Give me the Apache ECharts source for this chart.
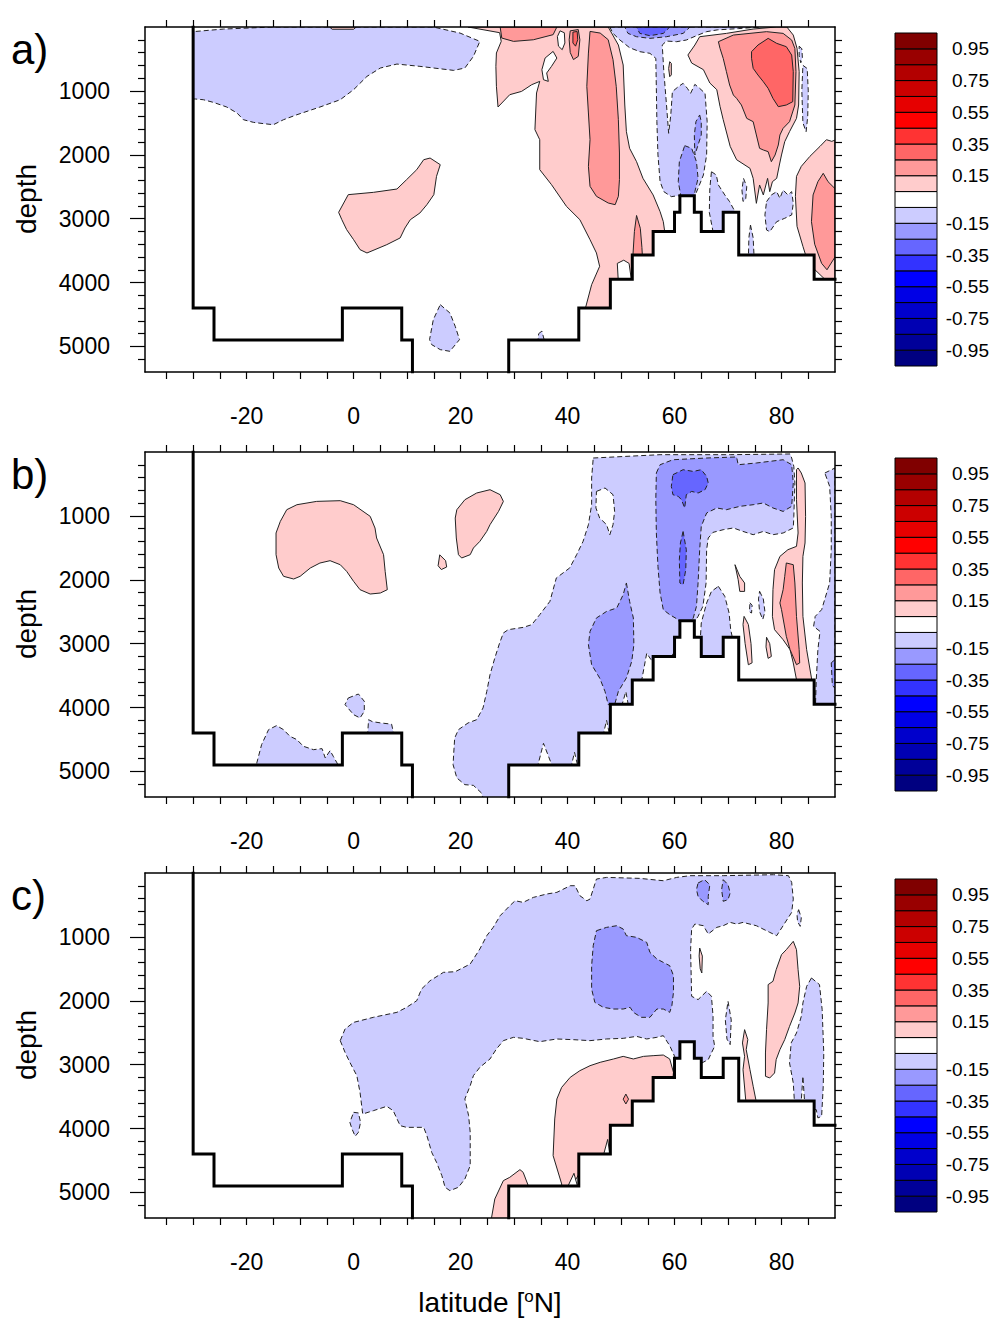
<!DOCTYPE html>
<html><head><meta charset="utf-8">
<script src="https://cdn.jsdelivr.net/npm/echarts@6/dist/echarts.min.js"></script>
<style>html,body{margin:0;padding:0;background:#fff}#c{width:995px;height:1322px}</style>
</head><body><div id="c"></div>
<script>
// ---------- axes / labels ----------
const xMin = -39, xMax = 90, yMin = 0, yMax = 5400;
const latLabels = [-20, 0, 20, 40, 60, 80];
const latTicks = [-35,-30,-25,-20,-15,-10,-5,0,5,10,15,20,25,30,35,40,45,50,55,60,65,70,75,80,85];
const depthLabels = [1000, 2000, 3000, 4000, 5000];
const depthMinor = [200,400,600,800,1200,1400,1600,1800,2200,2400,2600,2800,3200,3400,3600,3800,4200,4400,4600,4800,5200];
const depthAll = [200,400,600,800,1000,1200,1400,1600,1800,2000,2200,2400,2600,2800,3000,3200,3400,3600,3800,4000,4200,4400,4600,4800,5000,5200];
const panelNames = ['a)', 'b)', 'c)'];
// ---------- colour bar ----------
const cbLevels = [-0.95,-0.85,-0.75,-0.65,-0.55,-0.45,-0.35,-0.25,-0.15,-0.05,0.05,0.15,0.25,0.35,0.45,0.55,0.65,0.75,0.85,0.95];
const cbColors = ['#000080','#000099','#0000B3','#0000CC','#0000E6','#0000FF','#3333FF','#6666FF','#9999FF','#CCCCFF','#FFFFFF','#FFCCCC','#FF9999','#FF6666','#FF3333','#FF0000','#E60000','#CC0000','#B30000','#990000','#800000'];
const cbLabels = [0.95, 0.75, 0.55, 0.35, 0.15, -0.15, -0.35, -0.55, -0.75, -0.95];
const cbEnds = [-1.05, 1.05];
// ---------- bathymetry (lat, depth) ----------
const bathyWest = [[-30,0],[-30,4400],[-26.1,4400],[-26.1,4900],[-2.1,4900],[-2.1,4400],[9,4400],[9,4900],[11,4900],[11,5400]];
const bathyEast = [[29,5400],[29,4900],[42.1,4900],[42.1,4400],[48,4400],[48,3950],[52.1,3950],[52.1,3570],[56,3570],[56,3200],[60,3200],[60,2900],[61,2900],[61,2640],[63.7,2640],[63.7,2900],[65,2900],[65,3200],[69.1,3200],[69.1,2900],[72,2900],[72,3570],[86.1,3570],[86.1,3950],[90,3950]];

// ---------- panel a contour regions (lat, depth) ----------
const aNegTop = [[-31,80],[-24.3,32],[-15.0,0],[14.9,0],[19.9,95],[23.6,225],[22.4,460],[20.8,642],[18.7,679],[12.4,616],[8.1,580],[5.0,642],[2.5,773],[0.0,981],[-2.5,1138],[-6.3,1253],[-10.6,1373],[-13.1,1451],[-15.0,1529],[-16.8,1513],[-18.7,1493],[-20.6,1451],[-21.8,1346],[-23.7,1253],[-26.2,1180],[-28.1,1138],[-29.6,1127],[-31,1127]];
const aPosTopTiny = [[-4.5,0],[0.5,0],[0,35],[-4,35]];
const aPosMid = [[-2.8,2901],[-1.0,2624],[3.7,2588],[8.1,2536],[9.9,2390],[11.8,2233],[13.1,2077],[14.3,2051],[16.2,2155],[15.5,2338],[15.0,2624],[13.7,2781],[12.4,2911],[10.6,3016],[9.6,3146],[8.7,3302],[6.2,3407],[2.5,3537],[1.2,3485],[0.0,3329],[-1.3,3172],[-2.2,3016]];
const aNegSmall = [[16.2,4346],[18.0,4476],[19.0,4685],[19.8,4893],[18.0,5076],[16.2,5050],[14.6,4972],[14.2,4893],[14.9,4580]];
const aPosBig = [[21.4,0],[47.6,0],[49.5,282],[50.4,595],[50.7,1221],[51.0,1638],[51.6,1899],[52.9,2108],[54.1,2369],[56.0,2629],[57.3,2890],[57.9,3047],[58.5,3400],[52,4100],[48,4500],[44,4600],[43.4,4382],[44.5,4033],[46.0,3746],[45.4,3537],[44.2,3329],[42.3,3016],[39.8,2808],[37.0,2468],[34.8,2233],[34.8,1764],[33.9,1607],[34.2,1033],[34.8,851],[33.3,903],[31.4,1008],[29.2,1059],[27.0,1252],[26.7,929],[26.6,616],[26.7,407],[27.6,225],[27.3,89]];
const aHole1 = [[38.6,60],[39.4,90],[39.5,250],[39.0,355],[38.3,300],[38.1,150]];
const aHole2 = [[37.3,382],[38.0,486],[37.0,616],[36.1,720],[36.4,851],[35.5,825],[35.2,668],[35.8,486]];
const aHole3 = [[49.3,3700],[50.5,3650],[51.5,3700],[52.0,4000],[49.5,4000]];
const aPosTopStrip = [[27.4,0],[38.0,0],[37.3,120],[33.6,200],[29.9,225],[27.7,173]];
const aPosNarrow = [[40.5,60],[42.0,40],[42.3,200],[42.0,460],[41.1,510],[40.5,400],[40.3,200]];
const aPosNarrowIn = [[41.0,80],[41.8,70],[41.9,200],[41.5,300],[41.0,250]];
const aPosStrip = [[44.2,69],[46.1,95],[47.6,199],[48.5,512],[49.1,929],[49.5,1451],[49.7,1972],[49.7,2390],[49.5,2650],[48.9,2781],[47.6,2755],[45.4,2650],[44.2,2494],[43.9,2181],[44.2,1764],[43.9,1346],[43.6,929],[43.9,408]];
const aPosNearFloor = [[52.9,2950],[53.6,3150],[53.9,3450],[54.0,3600],[52.2,3600],[52.5,3200]];
const aNegCol = [[47.9,0],[76,0],[72,25],[68,45],[66.0,73],[64.1,136],[62.2,204],[60.4,230],[58.5,220],[57.7,282],[58.0,699],[58.5,1221],[58.9,1664],[59.3,1377],[59.6,1012],[60.7,934],[61.6,882],[62.4,960],[63.0,1038],[63.8,898],[64.7,960],[65.7,1038],[66.1,1482],[66.0,2003],[65.4,2316],[64.4,2525],[63.5,2700],[61.5,2700],[60.7,2640],[59.4,2655],[58.0,2577],[57.3,2420],[56.9,2003],[56.7,1482],[56.6,960],[56.5,491],[55.4,412],[53.5,386],[51.6,324],[49.8,204],[48.5,100]];
const aNegTopMid = [[50.7,0],[62.9,0],[61.6,100],[58.5,152],[55.4,178],[52.9,152],[51.3,100]];
const aNegTopDark = [[52.9,0],[59.1,0],[57.9,100],[55.4,136],[53.5,100]];
const aNegBlob1 = [[61.9,1857],[63.2,1899],[64.1,2108],[64.4,2369],[63.8,2577],[63.2,2700],[61.3,2700],[60.7,2421],[60.9,2108]];
const aNegBlob2 = [[64.7,1377],[65.0,1482],[65.0,1690],[64.4,1847],[63.8,2003],[63.7,1690],[64.0,1482]];
const aPosFinger = [[59.1,543],[59.4,570],[59.4,750],[59.1,778],[58.9,650]];
const aPosNE = [[62.5,438],[63.8,282],[64.7,152],[69.7,100],[74.7,32],[79,0],[81,0],[82.2,126],[82.9,334],[83.3,699],[83.2,1221],[82.8,1430],[81.5,1638],[80.6,1795],[80.0,2003],[79.6,2160],[79.1,2369],[78.3,2421],[77.8,2577],[77.4,2369],[76.6,2629],[75.9,2473],[75.3,2760],[74.7,2369],[74.1,2212],[71.6,2077],[70.4,1868],[69.1,1451],[68.5,1242],[67.9,981],[66.6,877],[65.4,668],[63.2,564]];
const aPosNE2 = [[68.2,230],[71.0,126],[77.2,73],[80.3,100],[81.9,204],[82.5,334],[82.7,699],[82.5,1221],[81.5,1482],[80.3,1586],[79.7,1690],[79.4,1847],[78.8,2003],[78.1,2108],[77.5,1951],[76.6,1925],[75.9,1899],[75.3,1690],[74.7,1482],[73.5,1430],[72.5,1221],[71.6,1117],[71.0,1065],[70.3,908],[69.7,699],[69.1,491],[68.5,334]];
const aPosNE3 = [[74.4,386],[75.6,282],[77.5,178],[79.1,256],[80.9,308],[81.9,439],[82.2,699],[82.1,1169],[80.9,1221],[79.4,1247],[78.4,1117],[77.5,960],[76.6,856],[75.6,752],[74.7,647],[74.4,491]];
const aNegR1 = [[83.3,300],[83.8,340],[83.9,480],[83.6,560],[83.3,450]];
const aNegR2 = [[84.0,600],[84.8,650],[85.0,1000],[84.9,1400],[84.6,1640],[84.0,1500],[83.8,1000]];
const aPosEdge = [[90,1770],[89.4,1790],[88.4,1764],[87.2,1868],[85.3,2025],[83.7,2181],[82.8,2338],[82.6,2650],[82.9,3120],[84.0,3433],[85,3700],[90,4100]];
const aPosEdge2 = [[87.8,2290],[88.7,2421],[90,2530],[90,3600],[88.5,3800],[87.5,3700],[86.2,3400],[85.6,3047],[85.9,2629],[86.8,2421]];
const aNegRidge = [[66.9,2264],[67.8,2316],[68.2,2473],[69.4,2629],[70.3,2734],[71.3,2890],[71.5,3000],[68,3300],[67.2,3203],[66.5,2900],[66.6,2525]];
const aNegS1 = [[72.9,2370],[73.5,2500],[73.3,2700],[72.8,2730],[72.6,2550]];
const aNegS2 = [[77.2,2734],[78.1,2629],[79.1,2577],[79.7,2681],[80.3,2551],[81.2,2629],[81.9,2577],[82.2,2760],[81.9,2942],[80.6,2994],[79.1,3047],[77.8,3203],[77.2,3177],[76.9,2942]];
const aNegS3 = [[74.2,3100],[74.7,3300],[74.9,3650],[73.8,3650],[73.9,3300]];
const aNegS4 = [[34.6,4800],[35.2,4760],[35.8,4950],[34.4,4950]];

// ---------- panel b ----------
const bPosW = [[-12.5,903],[-10.6,825],[-6.9,773],[-2.5,762],[0.0,825],[3.1,1007],[4.0,1190],[4.3,1346],[5.6,1607],[5.9,1868],[6.3,2155],[5.0,2207],[3.1,2223],[1.2,2155],[0.0,2025],[-1.3,1868],[-2.5,1764],[-4.4,1701],[-6.3,1738],[-8.1,1816],[-10.0,1946],[-11.2,1988],[-13.1,1946],[-14.0,1816],[-14.5,1607],[-14.5,1268],[-13.7,1086]];
const bPosM = [[19.3,903],[20.8,747],[23.0,642],[25.5,590],[27.4,668],[28.0,773],[27.1,929],[25.5,1138],[24.9,1242],[23.6,1399],[22.4,1503],[21.8,1607],[20.2,1659],[19.6,1607],[19.2,1346],[19.0,1034]];
const bPosTiny = [[16.1,1610],[17.2,1700],[17.4,1800],[16.4,1840],[15.8,1780]];
const bNegL1 = [[-1.0,3850],[0.9,3788],[2.0,3902],[2.0,4059],[1.2,4163],[0.0,4111],[-1.6,3954]];
const bNegL2 = [[2.6,4450],[2.8,4190],[3.5,4220],[5.0,4240],[7.1,4260],[7.6,4450]];
const bNegL3 = [[-18.3,5000],[-18.1,4867],[-17.2,4580],[-15.9,4346],[-14.4,4283],[-13.1,4346],[-11.9,4450],[-10.6,4502],[-9.4,4606],[-7.5,4659],[-5.9,4643],[-5.3,4789],[-4.4,4674],[-3.8,4763],[-3.1,4867],[-2.5,5000]];
const bNegBig = [[44.8,94],[57.3,42],[70.4,42],[81.6,31],[81.9,94],[82.3,225],[82.5,485],[82.3,1008],[82.2,1189],[80.3,1268],[78.4,1294],[76.6,1243],[74.7,1294],[72.8,1243],[71.0,1189],[69.1,1216],[67.2,1258],[66.3,1346],[66.0,1529],[65.9,2050],[65.3,2416],[64.4,2573],[63.8,2651],[63,2800],[60.5,3050],[58,3400],[54,3800],[50,4200],[47,4550],[41,5000],[30,5500],[24.2,5500],[24.2,5410],[23.9,5337],[22.4,5218],[20.8,5207],[19.3,5102],[18.6,4894],[18.7,4737],[18.9,4476],[19.6,4346],[21.4,4241],[23.0,4190],[24.2,4006],[24.9,3747],[25.5,3485],[26.4,3224],[27.3,2989],[28.0,2833],[28.9,2781],[31.7,2745],[33.3,2703],[34.8,2546],[36.7,2338],[37.9,1972],[40.4,1815],[41.7,1607],[42.9,1399],[43.9,1138],[44.5,825],[44.5,407]];
const bHole = [[45.4,617],[47.0,563],[48.5,668],[48.8,930],[48.5,1138],[47.9,1294],[47.3,1138],[46.0,1033],[45.3,876]];
const bNotch1 = [[53.8,3600],[54.8,3150],[56.0,3300],[56.2,3600]];
const bNotch2 = [[50.1,3980],[50.9,3750],[51.4,3980]];
const bNotch3 = [[46.6,4450],[47.3,4200],[47.9,4450]];
const bNotch4 = [[34.3,4950],[35.5,4560],[37.3,4950]];
const bNotch5 = [[40.6,4950],[41.3,4700],[42.0,4950]];
const bNegMid = [[56.6,329],[57.3,199],[59.7,121],[66.0,94],[71.6,78],[71.9,199],[75.3,172],[80.3,121],[81.9,199],[82.2,485],[81.9,851],[80.3,930],[78.4,876],[76.6,798],[74.7,825],[72.2,851],[69.7,903],[67.9,876],[66.0,955],[65.0,1164],[64.7,1529],[64.4,2050],[64.1,2416],[63.5,2598],[62.5,2750],[61.5,2750],[60.7,2625],[59.1,2546],[57.9,2468],[57.3,2207],[56.9,1790],[56.6,1268],[56.5,747]];
const bNegDark = [[59.7,355],[61.6,277],[63.5,304],[65.0,277],[66.0,382],[66.3,485],[65.7,590],[64.4,642],[63.2,617],[62.2,668],[61.9,876],[61.3,747],[60.7,695],[59.7,668],[59.4,538]];
const bNegDark2 = [[61.6,1243],[62.2,1529],[62.1,1842],[61.6,2077],[61.0,2050],[60.9,1686],[61.1,1424]];
const bNegMid2 = [[51.0,2050],[51.6,2338],[52.3,2598],[52.4,3016],[52.0,3277],[51.0,3537],[49.5,3747],[48.8,3955],[47.6,3955],[47.0,3747],[46.0,3537],[44.5,3329],[43.9,3016],[44.2,2808],[45.4,2598],[47.3,2495],[49.2,2441],[50.4,2233]];
const bNegPeak = [[68.2,2103],[69.4,2260],[70.2,2520],[70.5,2781],[71.3,3094],[66,3400],[64.7,3094],[65.0,2676],[66.0,2363],[66.9,2182]];
const bPosStrip = [[83.1,250],[83.7,329],[84.4,485],[84.5,1008],[84.4,1424],[84.0,1634],[83.9,2050],[84.0,2573],[84.7,3094],[85.6,3537],[85.7,3877],[82.8,3720],[82.8,3564],[82.2,3302],[81.6,3094],[80.3,2938],[78.7,2781],[78.3,2573],[78.4,2155],[78.7,1842],[79.7,1634],[81.2,1529],[82.8,1477],[83.1,1268],[82.8,747],[82.8,277]];
const bPosStripIn = [[80.9,1737],[82.2,1764],[82.5,2050],[82.8,2573],[83.3,3094],[83.4,3302],[82.8,3329],[81.6,3094],[80.9,2886],[80.0,2468],[79.7,2363],[80.3,2155],[80.6,1947]];
const bPosS1 = [[71.3,1764],[72.2,1947],[73.1,2050],[73.1,2182],[72.2,2182],[71.9,1999]];
const bPosS2 = [[73.0,2573],[73.8,2700],[74.3,3000],[74.5,3300],[73.8,3330],[73.2,3000],[72.8,2700]];
const bPosS3 = [[77.2,2900],[77.8,3000],[78.1,3200],[77.5,3230],[77.1,3050]];
const bNegS1 = [[75.9,2180],[76.6,2300],[76.9,2500],[76.5,2620],[75.9,2500],[75.7,2300]];
const bNegS2 = [[74.1,2360],[74.5,2400],[74.4,2520],[74.0,2500]];
const bNegEdge = [[88.1,329],[90,250],[90,4100],[86.3,4100],[86.5,3564],[86.8,3094],[87.2,2808],[86.0,2729],[86.3,2573],[87.5,2468],[89.0,2050],[89.3,1529],[89.3,1008],[89.0,538]];
const bNegEdgeIn = [[89.3,3300],[90,3250],[90,3700],[89.5,3650]];

// ---------- panel c ----------
const cNegBig = [[-2.5,2624],[-1.6,2442],[0.0,2338],[3.7,2259],[8.1,2181],[9.9,2103],[11.8,1999],[12.7,1816],[14.3,1686],[16.8,1555],[19.0,1545],[21.8,1425],[23.6,1190],[24.9,981],[26.1,851],[27.4,668],[29.2,512],[30.2,434],[31.7,460],[33.6,382],[36.1,329],[38.0,303],[40.5,199],[41.4,199],[42.3,355],[43.6,434],[44.2,408],[45.4,95],[47.3,69],[53.5,84],[57.9,121],[60.4,69],[62.9,42],[69.1,42],[78.5,27],[81.3,42],[81.9,147],[82.2,408],[81.9,616],[80.3,825],[79.1,981],[77.8,929],[75.3,825],[72.8,773],[71.6,799],[70.4,773],[69.1,825],[67.9,851],[66.3,955],[65.4,825],[63.8,799],[63.2,877],[63.0,1200],[63.2,1930],[64.4,1982],[66.0,1852],[66.9,1930],[67.2,2243],[67.2,2556],[67.5,2712],[66.3,2921],[64.5,3000],[62,2800],[60.5,3000],[60.1,2885],[59.1,2703],[57.9,2546],[56.7,2572],[54.8,2598],[52.9,2557],[50.4,2588],[47.3,2598],[44.2,2624],[41.1,2609],[38.0,2598],[34.8,2640],[31.7,2588],[29.9,2572],[28.0,2624],[26.7,2755],[25.5,2911],[23.6,3042],[22.4,3172],[21.8,3329],[20.8,3537],[21.5,3798],[21.8,4059],[21.8,4580],[20.8,4789],[19.6,4919],[18.0,4972],[17.1,4919],[16.5,4737],[15.5,4528],[14.6,4372],[13.7,4111],[13.1,3981],[9.9,3981],[8.7,3954],[7.4,3720],[6.2,3652],[3.7,3720],[1.7,3772],[1.2,3433],[0.6,3172],[-0.7,2963],[-1.6,2807]];
const cNegMid = [[45.4,903],[47.3,851],[49.2,825],[50.4,877],[51.0,981],[52.9,1007],[54.8,1086],[55.4,1242],[56.7,1346],[57.9,1399],[59.1,1451],[59.8,1607],[59.8,1868],[59.5,2077],[59.1,2181],[57.9,2129],[56.7,2129],[55.4,2259],[53.8,2259],[52.3,2181],[51.7,2103],[50.4,2129],[48.6,2129],[46.7,2103],[45.1,2025],[44.5,1816],[44.5,1451],[44.8,1138]];
const cNegD1 = [[64.4,157],[65.6,104],[66.6,183],[66.3,365],[66.3,496],[65.3,443],[64.4,365],[64.1,261]];
const cNegD2 = [[69.1,104],[70.0,183],[70.4,313],[70.0,417],[69.1,443],[68.8,261]];
const cPosFloor = [[38.9,4867],[37.3,4424],[37.6,3850],[38.0,3537],[38.9,3355],[40.5,3198],[42.3,3094],[44.2,3016],[46.1,2963],[48.6,2911],[50.4,2870],[52.3,2911],[54.2,2870],[56.0,2859],[57.9,2849],[59.1,2911],[59.8,3120],[59.5,3400],[50,4300],[43,4600],[40,5000],[38.9,5000]];
const cPosDiamond = [[50.9,3460],[51.4,3540],[50.9,3615],[50.4,3540]];
const cHole1 = [[39.8,4950],[41.2,4700],[42.0,4950]];
const cHole2 = [[46.6,4450],[47.5,4170],[48.0,4450]];
const cPosBL = [[25.8,5389],[26.4,5102],[28.0,4815],[29.2,4763],[31.1,4643],[31.7,4685],[32.7,4904],[33,5000],[29.5,5500],[25.8,5500]];
const cPosR = [[82.2,1069],[82.8,1200],[83.1,1513],[83.4,1774],[83.1,2034],[82.5,2191],[81.5,2400],[80.6,2608],[79.7,2765],[79.0,2921],[78.7,3130],[77.8,3208],[77.0,3182],[77.0,2817],[77.2,2452],[77.5,2034],[77.5,1747],[78.4,1695],[79.0,1513],[80.0,1278],[80.9,1200]];
const cPosThin = [[73.1,2452],[73.7,2608],[73.4,2765],[74.1,3078],[74.7,3338],[75.2,3547],[75.3,3700],[73.6,3700],[73.3,3547],[72.8,3078],[73.1,2869],[72.7,2660]];
const cPosTiny = [[64.7,1174],[65.2,1300],[65.1,1565],[64.8,1500],[64.6,1300]];
const cNegR = [[85.6,1643],[87.1,1747],[87.6,2139],[87.9,2817],[87.8,3338],[87.5,3808],[86.8,3834],[86.5,3704],[85.5,3700],[84.5,3700],[84.3,3560],[84.0,3182],[83.7,3560],[83.5,3700],[82.5,3700],[82.2,3286],[81.5,2973],[81.8,2660],[82.8,2504],[83.7,2243],[84.0,2034],[84.7,1774]];
const cNegT1 = [[83.2,574],[83.7,700],[83.5,835],[83.0,760],[82.9,650]];
const cNegT2 = [[70.0,2008],[70.6,2300],[70.4,2686],[69.8,2600],[69.5,2300]];
const cNegT3 = [[0.0,3746],[0.9,3756],[1.3,3902],[0.9,4059],[0.3,4121],[-0.3,4007],[-0.7,3902]];

// [region, representative value, edge style]
const panelA = [
  [aNegTop,-0.1],[aPosTopTiny,0.1],[aPosMid,0.1],[aNegSmall,-0.1],
  [aPosBig,0.1],[aHole1,0,'solid'],[aHole2,0,'solid'],[aHole3,0,'solid'],
  [aPosTopStrip,0.2],[aPosNarrow,0.2],[aPosNarrowIn,0.3],[aPosStrip,0.2],[aPosNearFloor,0.2],
  [aNegCol,-0.1],[aNegTopMid,-0.2],[aNegTopDark,-0.3],[aNegBlob1,-0.2],[aNegBlob2,-0.2],[aPosFinger,0.1],
  [aPosNE,0.1],[aPosNE2,0.2],[aPosNE3,0.3],[aNegR1,-0.1],[aNegR2,-0.1],
  [aPosEdge,0.1],[aPosEdge2,0.2],[aNegRidge,-0.1],[aNegS1,-0.1],[aNegS2,-0.1],[aNegS3,-0.1],[aNegS4,-0.1]
];
const panelB = [
  [bPosW,0.1],[bPosM,0.1],[bPosTiny,0.1],[bNegL1,-0.1],[bNegL2,-0.1],[bNegL3,-0.1],
  [bNegBig,-0.1],[bHole,0,'dash'],[bNotch1,0,'dash'],[bNotch2,0,'dash'],[bNotch3,0,'dash'],[bNotch4,0,'dash'],[bNotch5,0,'dash'],
  [bNegMid,-0.2],[bNegDark,-0.3],[bNegDark2,-0.3],[bNegMid2,-0.2],[bNegPeak,-0.1],
  [bPosStrip,0.1],[bPosStripIn,0.2],[bPosS1,0.1],[bPosS2,0.1],[bPosS3,0.1],[bNegS1,-0.1],[bNegS2,-0.1],
  [bNegEdge,-0.1],[bNegEdgeIn,-0.2]
];
const panelC = [
  [cNegBig,-0.1],[cNegMid,-0.2],[cNegD1,-0.2],[cNegD2,-0.2],
  [cPosFloor,0.1],[cPosDiamond,0.2],[cHole1,0,'solid'],[cHole2,0,'solid'],[cPosBL,0.1],
  [cPosR,0.1],[cPosThin,0.1],[cPosTiny,0.1],[cNegR,-0.1],[cNegT1,-0.1],[cNegT2,-0.1],[cNegT3,-0.1]
];
const panels = [panelA, panelB, panelC];

// ---------- layout ----------
const FONT = 'Liberation Sans, Arial, Helvetica, sans-serif';
const gridTops = [27, 452, 873];
const cbTops = [33, 458, 879];

function colorFor(v) {
  let i = 0;
  while (i < cbLevels.length && cbLevels[i] < v) i++;
  return cbColors[i];
}

const chart = echarts.init(document.getElementById('c'), null, {renderer: 'svg', width: 995, height: 1322});

const grid = [], xAxis = [], yAxis = [], series = [], graphic = [];
gridTops.forEach((t) => grid.push({left: 145, top: t, width: 690, height: 345, outerBoundsMode: 'none'}));
cbTops.forEach((t) => grid.push({left: 895, top: t, width: 42, height: 333, outerBoundsMode: 'none'}));

const axLine = {show: true, onZero: false, lineStyle: {color: '#000', width: 1.5}};
const noLine = {show: false, onZero: false};
for (let g = 0; g < 3; g++) {
  xAxis.push({gridIndex: g, type: 'value', min: xMin, max: xMax, position: 'bottom', z: 10,
    axisLine: axLine, splitLine: {show: false},
    axisTick: {show: true, inside: false, length: 7, customValues: latTicks, lineStyle: {color: '#000', width: 1.2}},
    axisLabel: {customValues: latLabels, formatter: (v) => String(v), margin: 32, fontSize: 23, color: '#000', fontFamily: FONT}});
  xAxis.push({gridIndex: g, type: 'value', min: xMin, max: xMax, position: 'top', z: 10,
    axisLine: axLine, splitLine: {show: false},
    axisTick: {show: true, inside: false, length: 7, customValues: latTicks, lineStyle: {color: '#000', width: 1.2}},
    axisLabel: {show: false}});
  yAxis.push({gridIndex: g, type: 'value', min: yMin, max: yMax, inverse: true, position: 'left', z: 10,
    axisLine: axLine, splitLine: {show: false},
    axisTick: {show: true, inside: false, length: 15, customValues: depthLabels, lineStyle: {color: '#000', width: 1.2}},
    axisLabel: {customValues: depthLabels, formatter: (v) => String(v), margin: 35, fontSize: 23, color: '#000', fontFamily: FONT}});
  yAxis.push({gridIndex: g, type: 'value', min: yMin, max: yMax, inverse: true, position: 'left', z: 10,
    axisLine: noLine, splitLine: {show: false},
    axisTick: {show: true, inside: false, length: 7, customValues: depthMinor, lineStyle: {color: '#000', width: 1.2}},
    axisLabel: {show: false}});
  yAxis.push({gridIndex: g, type: 'value', min: yMin, max: yMax, inverse: true, position: 'right', z: 10,
    axisLine: axLine, splitLine: {show: false},
    axisTick: {show: true, inside: false, length: 7, customValues: depthAll, lineStyle: {color: '#000', width: 1.2}},
    axisLabel: {show: false}});
}
for (let k = 0; k < 3; k++) {
  xAxis.push({gridIndex: 3 + k, type: 'value', min: 0, max: 1, show: false, axisLine: noLine});
  yAxis.push({gridIndex: 3 + k, type: 'value', min: cbEnds[0], max: cbEnds[1], position: 'right',
    axisLine: noLine, axisTick: {show: false}, splitLine: {show: false},
    axisLabel: {customValues: cbLabels, formatter: (v) => v.toFixed(2), align: 'right', margin: 52, fontSize: 19, color: '#000', fontFamily: FONT}});
}

for (let g = 0; g < 3; g++) {
  const shapes = panels[g];
  series.push({
    type: 'custom', coordinateSystem: 'cartesian2d', xAxisIndex: 2 * g, yAxisIndex: 3 * g,
    clip: true, silent: true, z: 2,
    data: shapes.map((s) => s[0][0]),
    renderItem: (params, api) => {
      const s = shapes[params.dataIndex];
      const pts = s[0].map((p) => api.coord(p));
      const dashed = s[2] ? s[2] === 'dash' : s[1] < 0;
      return {type: 'polygon', shape: {points: pts},
        style: {fill: colorFor(s[1]), stroke: '#222', lineWidth: 1, lineDash: dashed ? [5, 3] : null, lineJoin: 'round'}};
    }
  });
  const masks = [[[xMin, yMin]].concat(bathyWest, [[xMin, yMax]]), bathyEast.concat([[xMax, yMax]])];
  series.push({
    type: 'custom', coordinateSystem: 'cartesian2d', xAxisIndex: 2 * g, yAxisIndex: 3 * g,
    clip: true, silent: true, z: 3,
    data: masks.map((m) => m[0]),
    renderItem: (params, api) => ({type: 'polygon', shape: {points: masks[params.dataIndex].map((p) => api.coord(p))},
      style: {fill: '#fff', stroke: null}})
  });
  [bathyWest, bathyEast].forEach((seg) => series.push({
    type: 'line', xAxisIndex: 2 * g, yAxisIndex: 3 * g, data: seg, symbol: 'none', silent: true, z: 4, clip: true,
    lineStyle: {color: '#000', width: 3, join: 'miter', cap: 'square'}
  }));
}
for (let k = 0; k < 3; k++) {
  series.push({
    type: 'custom', coordinateSystem: 'cartesian2d', xAxisIndex: 6 + k, yAxisIndex: 9 + k, silent: true, z: 2,
    data: cbColors.map((c, i) => [0.5, i]),
    renderItem: (params, api) => {
      const i = params.dataIndex;
      const lo = i === 0 ? cbEnds[0] : cbLevels[i - 1];
      const hi = i === cbColors.length - 1 ? cbEnds[1] : cbLevels[i];
      const p1 = api.coord([0, hi]), p2 = api.coord([1, lo]);
      return {type: 'rect', shape: {x: p1[0], y: p1[1], width: p2[0] - p1[0], height: p2[1] - p1[1]},
        style: {fill: cbColors[i], stroke: '#000', lineWidth: 1}};
    }
  });
}

for (let g = 0; g < 3; g++) {
  graphic.push({type: 'text', x: 11, y: gridTops[g] + 22, z: 20,
    style: {text: panelNames[g], fontSize: 42, fontFamily: FONT, fill: '#000', align: 'left', verticalAlign: 'middle'}});
  graphic.push({type: 'text', x: 26, y: gridTops[g] + 172, rotation: Math.PI / 2, z: 20,
    style: {text: 'depth', fontSize: 28, fontFamily: FONT, fill: '#000', align: 'center', verticalAlign: 'middle'}});
}
graphic.push({type: 'text', x: 490, y: 1302, z: 20,
  style: {text: 'latitude [{s|o}N]', fontSize: 28, fontFamily: FONT, fill: '#000', align: 'center', verticalAlign: 'middle',
    rich: {s: {fontSize: 17, fontFamily: FONT, fill: '#000', verticalAlign: 'top', padding: [0, 0, 10, 0]}}}});

chart.setOption({animation: false, backgroundColor: '#fff', grid, xAxis, yAxis, series, graphic});
</script></body></html>
